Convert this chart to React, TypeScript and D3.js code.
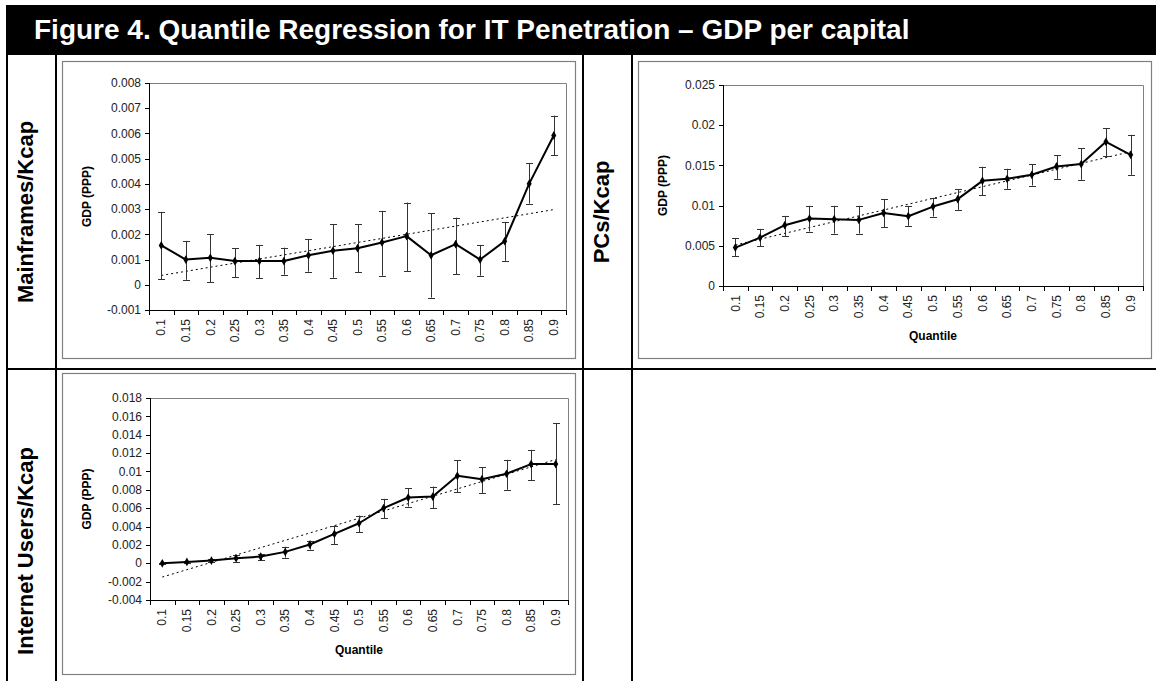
import React from "react";
import * as d3 from "d3";

const quantiles = ["0.1","0.15","0.2","0.25","0.3","0.35","0.4","0.45","0.5","0.55","0.6","0.65","0.7","0.75","0.8","0.85","0.9"];

const mainframesValue = [0.00156,0.0010,0.00107,0.00094,0.00094,0.00094,0.00117,0.00135,0.00145,0.00168,0.00193,0.00117,0.00161,0.0010,0.00173,0.00401,0.00592];
const mainframesLow   = [0.00022,0.0002,0.0001,0.0003,0.00025,0.0004,0.00052,0.00028,0.00049,0.00036,0.00054,-0.00051,0.00041,0.00036,0.00095,0.00322,0.00513];
const mainframesHigh  = [0.00289,0.00174,0.0020,0.00144,0.00158,0.00147,0.0018,0.0024,0.00239,0.00293,0.00326,0.00284,0.00266,0.00158,0.00247,0.00483,0.00671];
const mainframesTrend = [0.00037, 0.00298];
const mainframesTicks = [-0.001,0,0.001,0.002,0.003,0.004,0.005,0.006,0.007,0.008];

const pcsValue = [0.00478,0.00602,0.00756,0.00839,0.00831,0.00822,0.00909,0.00868,0.00988,0.0108,0.01308,0.01333,0.01383,0.01487,0.01516,0.01794,0.01632];
const pcsLow   = [0.0037,0.00494,0.00619,0.00677,0.00652,0.00652,0.00731,0.00748,0.00864,0.00947,0.0113,0.01208,0.0125,0.01333,0.0132,0.01611,0.01383];
const pcsHigh  = [0.00594,0.0071,0.00872,0.00997,0.00997,0.00997,0.01076,0.00997,0.01096,0.01204,0.01483,0.01458,0.01512,0.01628,0.01711,0.0196,0.01881];
const pcsTrend = [0.0051, 0.0167];
const pcsTicks = [0,0.005,0.01,0.015,0.02,0.025];

const internetValue = [0,0.00015,0.00029,0.00055,0.00073,0.00124,0.00204,0.0032,0.00436,0.0060,0.00716,0.00727,0.00953,0.00916,0.00975,0.0108,0.0108];
const internetLow   = [-0.00008,0.0,0.00011,0.00018,0.00033,0.00062,0.00149,0.0021,0.00338,0.00491,0.00618,0.0060,0.00775,0.00764,0.0080,0.00902,0.00644];
const internetHigh  = [0.00008,0.0003,0.00047,0.00087,0.00105,0.0018,0.00247,0.0041,0.0052,0.00702,0.00815,0.00836,0.0112,0.01047,0.01127,0.01236,0.01527];
const internetTrend = [-0.0015, 0.0113];
const internetTicks = [-0.004,-0.002,0,0.002,0.004,0.006,0.008,0.01,0.012,0.014,0.016,0.018];

const titleText = "Figure 4. Quantile Regression for IT Penetration \u2013 GDP per capital";
const rowLabels = ["Mainframes/Kcap", "PCs/Kcap", "Internet Users/Kcap"];
const yTitle = "GDP (PPP)";
const xTitle = "Quantile";

const FONT = "'Liberation Sans', Arial, Helvetica, sans-serif";

function fmt(v: number) {
  const r = +v.toFixed(3);
  return Math.abs(r) < 1e-12 ? "0" : String(r);
}

type PanelProps = {
  box: [number, number, number, number];
  plot: [number, number, number, number];
  ticks: number[];
  values: number[];
  low: number[];
  high: number[];
  trend: number[];
  showXTitle: boolean;
};

function Panel({ box, plot, ticks, values, low, high, trend, showXTitle }: PanelProps) {
  const [px0, py0, px1, py1] = plot;
  const x = d3.scaleBand<string>().domain(quantiles).range([px0, px1]).paddingInner(0).paddingOuter(0);
  const y = d3.scaleLinear().domain([ticks[0], ticks[ticks.length - 1]]).range([py1, py0]);
  const cx = (q: string) => (x(q) as number) + x.bandwidth() / 2;
  const line = d3.line<number>().x((_, i) => cx(quantiles[i])).y((v) => y(v));
  const n = quantiles.length;
  const boundaries = d3.range(n + 1).map((i) => px0 + i * x.bandwidth());
  const diamond = d3.symbol().type(d3.symbolDiamond).size(22)();
  return (
    <g>
      <rect x={box[0] + 0.5} y={box[1] + 0.5} width={box[2] - box[0]} height={box[3] - box[1]} fill="#fff" stroke="#808080" strokeWidth={1.2} />
      <path d={`M${px0},${py0 + 0.5}H${px1 + 0.5}V${py1}`} fill="none" stroke="#808080" strokeWidth={1} />
      <line x1={px0 + 0.5} x2={px0 + 0.5} y1={py0} y2={py1} stroke="#000" strokeWidth={1} />
      {ticks.map((t) => (
        <g key={"yt" + t}>
          <line x1={px0 - 4} x2={px0} y1={Math.round(y(t)) + 0.5} y2={Math.round(y(t)) + 0.5} stroke="#000" strokeWidth={1} />
          <text x={px0 - 8} y={y(t)} dy="0.35em" textAnchor="end" fontFamily={FONT} fontSize={12} fill="#222">{fmt(t)}</text>
        </g>
      ))}
      <line x1={px0} x2={px1 + 0.5} y1={py1 + 0.5} y2={py1 + 0.5} stroke="#000" strokeWidth={1} />
      {boundaries.map((b, i) => (
        <line key={"xt" + i} x1={Math.round(b) + 0.5} x2={Math.round(b) + 0.5} y1={py1} y2={py1 + 5} stroke="#000" strokeWidth={1} />
      ))}
      {quantiles.map((q) => (
        <text key={"xl" + q} transform={`translate(${cx(q)},${py1 + 9}) rotate(-90)`} dy="0.35em" textAnchor="end" fontFamily={FONT} fontSize={12} fill="#222">{q}</text>
      ))}
      <text transform={`translate(${box[0] + 25},${(py0 + py1) / 2}) rotate(-90)`} textAnchor="middle" dy="0.35em" fontFamily={FONT} fontWeight="bold" fontSize={12} fill="#000">{yTitle}</text>
      {showXTitle && (
        <text x={(px0 + px1) / 2} y={py1 + 50} textAnchor="middle" dy="0.35em" fontFamily={FONT} fontWeight="bold" fontSize={12} fill="#000">{xTitle}</text>
      )}
      <line x1={cx(quantiles[0])} x2={cx(quantiles[n - 1])} y1={y(trend[0])} y2={y(trend[1])} stroke="#000" strokeWidth={1} strokeDasharray="2,3" />
      {quantiles.map((q, i) => (
        <g key={"eb" + q} stroke="#333" strokeWidth={1}>
          <line x1={Math.round(cx(q)) + 0.5} x2={Math.round(cx(q)) + 0.5} y1={y(low[i])} y2={y(high[i])} />
          <line x1={Math.round(cx(q)) - 3} x2={Math.round(cx(q)) + 4} y1={Math.round(y(low[i])) + 0.5} y2={Math.round(y(low[i])) + 0.5} />
          <line x1={Math.round(cx(q)) - 3} x2={Math.round(cx(q)) + 4} y1={Math.round(y(high[i])) + 0.5} y2={Math.round(y(high[i])) + 0.5} />
        </g>
      ))}
      <path d={line(values) as string} fill="none" stroke="#000" strokeWidth={2} strokeLinejoin="round" />
      {values.map((v, i) => (
        <path key={"mk" + i} d={diamond as string} transform={`translate(${cx(quantiles[i])},${y(v)})`} fill="#000" />
      ))}
    </g>
  );
}

export default function App() {
  const W = 1156, H = 681;
  return (
    <svg width={W} height={H} style={{ position: "absolute", left: 0, top: 0, background: "#fff" }}>
      <rect x={0} y={0} width={W} height={H} fill="#fff" />
      <rect x={6} y={5} width={W - 6} height={50} fill="#000" />
      <text x={34} y={39} fontFamily={FONT} fontWeight="bold" fontSize={28} fill="#fff">{titleText}</text>
      <g stroke="#000" strokeWidth={2}>
        <line x1={7} x2={7} y1={55} y2={H} />
        <line x1={56} x2={56} y1={55} y2={H} />
        <line x1={583} x2={583} y1={55} y2={H} />
        <line x1={632} x2={632} y1={55} y2={H} />
        <line x1={6} x2={W} y1={369} y2={369} />
      </g>
      <text transform={`translate(33,212) rotate(-90)`} textAnchor="middle" fontFamily={FONT} fontWeight="bold" fontSize={22} fill="#000">{rowLabels[0]}</text>
      <text transform={`translate(609,212) rotate(-90)`} textAnchor="middle" fontFamily={FONT} fontWeight="bold" fontSize={22} fill="#000">{rowLabels[1]}</text>
      <text transform={`translate(33,551) rotate(-90)`} textAnchor="middle" fontFamily={FONT} fontWeight="bold" fontSize={22} fill="#000">{rowLabels[2]}</text>

      <Panel box={[62, 61, 575, 358]} plot={[149, 83, 566, 310]} ticks={mainframesTicks} values={mainframesValue} low={mainframesLow} high={mainframesHigh} trend={mainframesTrend} showXTitle={false} />
      <Panel box={[638, 61, 1151, 358]} plot={[723, 85, 1143, 286]} ticks={pcsTicks} values={pcsValue} low={pcsLow} high={pcsHigh} trend={pcsTrend} showXTitle={true} />
      <Panel box={[62, 373, 575, 674]} plot={[150, 398, 568, 600]} ticks={internetTicks} values={internetValue} low={internetLow} high={internetHigh} trend={internetTrend} showXTitle={true} />
    </svg>
  );
}
